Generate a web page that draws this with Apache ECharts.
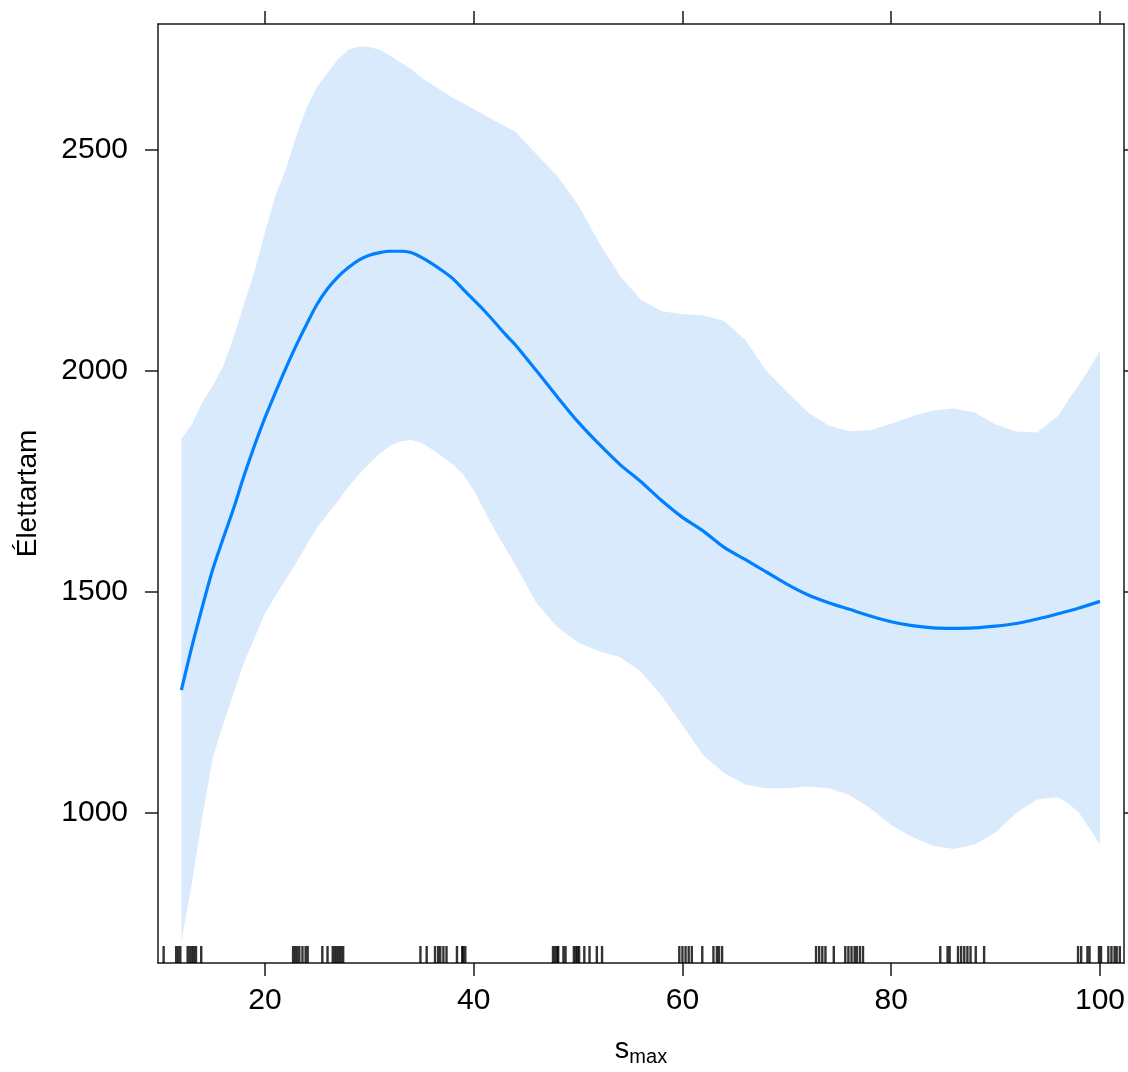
<!DOCTYPE html>
<html>
<head>
<meta charset="utf-8">
<script src="https://cdn.jsdelivr.net/npm/echarts@6/dist/echarts.min.js"></script>
<style>
html,body{margin:0;padding:0;background:#fff;}
#chart{width:1128px;height:1072px;}
</style>
</head>
<body>
<div id="chart"></div>
<script>
// ---- data ----
const fitX = [12,13,14,15,16,17,18,19,20,21,22,23,24,25,26,27,28,29,30,31,32,33,34,35,36,37,38,39,40,41,42,43,44,46,48,50,52,54,56,58,60,62,64,66,68,70,72,74,76,78,80,82,84,86,88,90,92,94,96,98,100];
const fitY = [1277,1375,1465,1550,1620,1688,1762,1830,1893,1950,2005,2057,2105,2150,2185,2212,2233,2250,2261,2267,2270,2270,2267,2256,2242,2226,2208,2184,2160,2136,2110,2083,2058,2000,1941,1884,1834,1788,1749,1706,1668,1637,1600,1573,1545,1517,1493,1475,1460,1445,1432,1423,1418,1417,1418,1422,1428,1438,1450,1463,1478];

const bandX = [12,13,14,15,16,17,18,19,20,21,22,23,24,25,26,27,28,29,30,31,32,33,34,35,36,37,38,39,40,42,44,46,48,50,52,54,56,58,60,62,64,66,68,70,72,74,76,78,80,82,84,86,88,90,92,94,96,97,98,99,100];
const upperY = [1845,1878,1928,1965,2010,2075,2150,2225,2312,2395,2455,2530,2595,2642,2673,2704,2726,2733,2732,2726,2712,2697,2682,2662,2647,2632,2617,2605,2592,2565,2540,2490,2440,2375,2290,2215,2160,2134,2128,2125,2112,2070,2000,1952,1906,1876,1863,1865,1880,1897,1910,1914,1905,1878,1862,1860,1898,1935,1968,2005,2045];
const lowerY = [710,840,990,1124,1200,1270,1340,1395,1450,1490,1528,1565,1605,1645,1675,1705,1737,1765,1790,1812,1830,1840,1843,1837,1822,1805,1788,1765,1730,1640,1560,1475,1420,1385,1365,1352,1320,1265,1198,1130,1090,1064,1055,1055,1059,1055,1040,1010,972,945,925,918,928,955,1000,1030,1035,1020,1000,965,928];

const rugX = [10.3,11.5,11.7,11.9,12.6,12.8,13.0,13.2,13.4,13.9,
  22.7,22.9,23.1,23.3,23.6,23.9,24.1,25.5,26.0,26.5,26.7,26.9,27.1,27.3,27.5,
  34.9,35.5,36.3,36.6,36.8,37.1,37.4,38.4,38.9,39.0,39.2,
  47.6,47.8,48.0,48.1,48.6,48.8,49.6,49.8,49.95,50.1,50.6,51.1,51.8,52.3,
  59.7,60.0,60.3,60.6,60.9,61.9,62.97,63.3,63.5,63.8,
  72.8,73.1,73.4,73.7,74.5,75.6,75.9,76.2,76.5,76.7,77.0,77.3,
  84.7,85.4,85.6,86.4,86.7,87.0,87.3,87.6,88.1,88.9,
  97.9,98.2,98.8,99.0,99.9,100.1,100.8,101.1,101.4,101.6,101.9];

const xTicks = [20,40,60,80,100];
const yTicks = [1000,1500,2000,2500];
const X_MIN = 9.76, X_MAX = 102.3;
const Y_MIN = 660, Y_MAX = 2784;

const FONT = 'Liberation Sans, Arial, sans-serif';
const AX = '#1a1a1a';

const lineData = fitX.map((x,i)=>[x, fitY[i]]);
const rugData = rugX.map(x=>[x, Y_MIN]);

const chart = echarts.init(document.getElementById('chart'), null, {renderer:'canvas'});

function axisCommonX(pos, labels){
  return {
    type:'value', position:pos, min:X_MIN, max:X_MAX,
    axisLine:{show:true, onZero:false, lineStyle:{color:AX, width:1.5}},
    axisTick:{show:true, inside:false, length:13, customValues:xTicks, lineStyle:{color:AX, width:1.5}},
    axisLabel:{show:labels, customValues:xTicks, fontSize:30, margin:23, color:'#000', fontFamily:FONT,
      formatter:function(v){return String(v);}},
    splitLine:{show:false}
  };
}
function axisCommonY(pos, labels){
  return {
    type:'value', position:pos, min:Y_MIN, max:Y_MAX,
    axisLine:{show:true, onZero:false, lineStyle:{color:AX, width:1.5}},
    axisTick:{show:true, inside:false, length:13, customValues:yTicks, lineStyle:{color:AX, width:1.5}},
    axisLabel:{show:labels, customValues:yTicks, fontSize:30, margin:30, color:'#000', fontFamily:FONT,
      formatter:function(v){return String(v);}},
    splitLine:{show:false}
  };
}

const xb = axisCommonX('bottom', true);
xb.name = '{s|s}{m|max}';
xb.nameLocation = 'middle';
xb.nameGap = 70;
xb.nameTextStyle = {
  color:'#000', fontFamily:FONT,
  rich:{
    s:{fontSize:29, lineHeight:34, fontFamily:FONT, color:'#000'},
    m:{fontSize:20, lineHeight:20, padding:[14,0,0,0], fontFamily:FONT, color:'#000'}
  }
};
const yl = axisCommonY('left', true);
yl.name = 'Élettartam';
yl.nameLocation = 'middle';
yl.nameGap = 116;
yl.nameTextStyle = {fontSize:28, color:'#000', fontFamily:FONT};

const option = {
  animation:false,
  backgroundColor:'#fff',
  grid:{left:158, right:3, top:24, bottom:105, containLabel:false},
  xAxis:[xb, axisCommonX('top', false)],
  yAxis:[yl, axisCommonY('right', false)],
  series:[
    {
      type:'custom',
      xAxisIndex:0, yAxisIndex:0,
      data:[[0]],
      silent:true,
      z:1,
      renderItem:function(params, api){
        const pts = [];
        for(let i=0;i<bandX.length;i++) pts.push(api.coord([bandX[i], upperY[i]]));
        for(let i=bandX.length-1;i>=0;i--) pts.push(api.coord([bandX[i], lowerY[i]]));
        return {type:'polygon', shape:{points:pts}, style:{fill:'#D9EAFD', stroke:null}};
      }
    },
    {
      type:'line',
      data:lineData,
      showSymbol:false,
      smooth:0.3,
      z:3,
      lineStyle:{color:'#0080FF', width:3.2},
      itemStyle:{color:'#0080FF'}
    },
    {
      type:'scatter',
      data:rugData,
      symbol:'rect',
      symbolSize:[2.4,17],
      symbolOffset:[0,'-50%'],
      itemStyle:{color:'#000'},
      silent:true,
      z:4
    }
  ]
};
chart.setOption(option);
</script>
</body>
</html>
